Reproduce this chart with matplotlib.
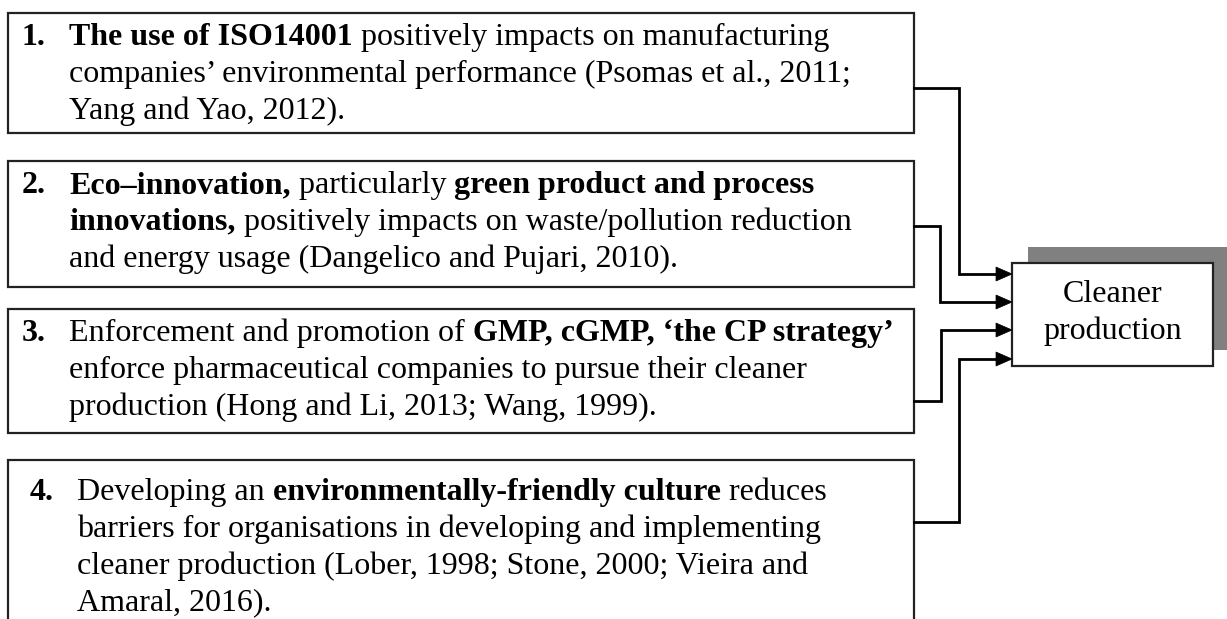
import matplotlib
matplotlib.use("Agg")
import matplotlib.pyplot as plt
from matplotlib.patches import Rectangle, Polygon
from matplotlib.font_manager import FontProperties

# ---------------- content ----------------
numbers = ["1.", "2.", "3.", "4."]
box1_lines = [
    [("The use of ISO14001", True), (" positively impacts on manufacturing", False)],
    [("companies\u2019 environmental performance (Psomas et al., 2011;", False)],
    [("Yang and Yao, 2012).", False)],
]
box2_lines = [
    [("Eco\u2013innovation,", True), (" particularly ", False), ("green product and process", True)],
    [("innovations,", True), (" positively impacts on waste/pollution reduction", False)],
    [("and energy usage (Dangelico and Pujari, 2010).", False)],
]
box3_lines = [
    [("Enforcement and promotion of ", False), ("GMP, cGMP, \u2018the CP strategy\u2019", True)],
    [("enforce pharmaceutical companies to pursue their cleaner", False)],
    [("production (Hong and Li, 2013; Wang, 1999).", False)],
]
box4_lines = [
    [("Developing an ", False), ("environmentally-friendly culture", True), (" reduces", False)],
    [("barriers for organisations in developing and implementing", False)],
    [("cleaner production (Lober, 1998; Stone, 2000; Vieira and", False)],
    [("Amaral, 2016).", False)],
]
outcome_lines = ["Cleaner", "production"]

# ---------------- layout (pixels) ----------------
W, H = 1227, 619
box_left, box_right = 8, 914
box_tops = [13, 161, 309, 460]
box_bottoms = [133, 287, 433, 660]
num_x = [22, 22, 22, 30]
body_x = [69, 69, 69, 77]
first_base = [45, 193, 341, 500]
pitch = 36.8
conn_out_y = [88, 226, 401, 522]
conn_mid_x = [959, 940, 941, 959]
conn_in_y = [274, 302, 330, 359]
tgt = dict(x0=1012, x1=1213, y0=263, y1=366)
shadow = dict(x0=1028, x1=1240, y0=247, y1=350)

FS = 23
fam = ["Liberation Serif", "DejaVu Serif"]
fp_r = FontProperties(family=fam, size=FS)
fp_b = FontProperties(family=fam, size=FS, weight="bold")

fig = plt.figure(figsize=(W / 100, H / 100), dpi=100)
ax = fig.add_axes([0, 0, 1, 1])
ax.set_xlim(0, W)
ax.set_ylim(H, 0)
ax.axis("off")
fig.canvas.draw()
renderer = fig.canvas.get_renderer()


def width(s, fp):
    w1, _, _ = renderer.get_text_width_height_descent("|" + s + "|", fp, ismath=False)
    w0, _, _ = renderer.get_text_width_height_descent("||", fp, ismath=False)
    return w1 - w0


def draw_runs(x, y, runs):
    for s, bold in runs:
        fp = fp_b if bold else fp_r
        ax.text(x, y, s, fontproperties=fp, va="baseline", ha="left", color="black")
        x += width(s, fp)


all_boxes = [box1_lines, box2_lines, box3_lines, box4_lines]
for i, lines in enumerate(all_boxes):
    ax.add_patch(Rectangle((box_left, box_tops[i]), box_right - box_left,
                           box_bottoms[i] - box_tops[i], facecolor="white",
                           edgecolor="#222222", lw=1.6, zorder=1))
    ax.text(num_x[i], first_base[i], numbers[i], fontproperties=fp_b,
            va="baseline", ha="left")
    for j, runs in enumerate(lines):
        draw_runs(body_x[i], first_base[i] + j * pitch, runs)

# connectors
for i in range(4):
    ax.plot([box_right, conn_mid_x[i], conn_mid_x[i], tgt["x0"] - 14],
            [conn_out_y[i], conn_out_y[i], conn_in_y[i], conn_in_y[i]],
            color="black", lw=2.0, solid_joinstyle="miter", zorder=2)
    ax.add_patch(Polygon([[tgt["x0"] - 16, conn_in_y[i] - 7],
                          [tgt["x0"], conn_in_y[i]],
                          [tgt["x0"] - 16, conn_in_y[i] + 7]],
                         closed=True, facecolor="black", edgecolor="black",
                         lw=0.5, zorder=3))

# target box with shadow
ax.add_patch(Rectangle((shadow["x0"], shadow["y0"]), shadow["x1"] - shadow["x0"],
                       shadow["y1"] - shadow["y0"], facecolor="#808080",
                       edgecolor="none", zorder=1))
ax.add_patch(Rectangle((tgt["x0"], tgt["y0"]), tgt["x1"] - tgt["x0"],
                       tgt["y1"] - tgt["y0"], facecolor="white",
                       edgecolor="#222222", lw=1.6, zorder=2))
cx = (tgt["x0"] + tgt["x1"]) / 2
for j, s in enumerate(outcome_lines):
    ax.text(cx, 302 + j * pitch, s, fontproperties=fp_r, va="baseline",
            ha="center", zorder=4)

fig.savefig("out.png", dpi=100)
